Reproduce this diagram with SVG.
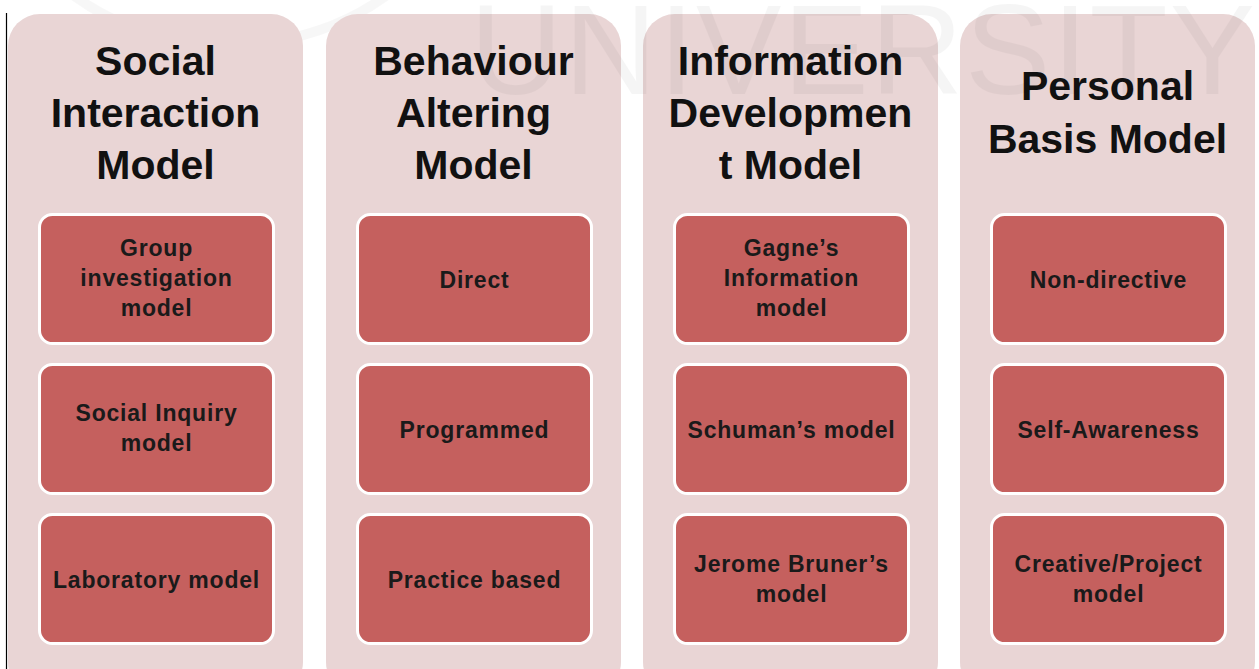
<svg xmlns="http://www.w3.org/2000/svg" width="1259" height="669" viewBox="0 0 1259 669">
  <style>
    .panel { fill: #e9d5d5; }
    .box { fill: #c5605e; stroke: #ffffff; stroke-width: 3; }
    .title { font-family: "Liberation Sans", Arial, sans-serif; font-weight: bold; font-size: 41px; fill: #111111; text-anchor: middle; }
    .label { font-family: "Liberation Sans", Arial, sans-serif; font-weight: bold; font-size: 23px; letter-spacing: 0.8px; fill: #1a1a1a; text-anchor: middle; }
    .wm { font-family: "Liberation Sans", Arial, sans-serif; font-size: 128px; fill: #000000; opacity: 0.035; }
  </style>
  <rect width="1259" height="669" fill="#ffffff"/>
  <ellipse cx="230" cy="-160" rx="240" ry="205" fill="none" stroke="#000" stroke-opacity="0.03" stroke-width="10"/>
  <line x1="6.5" y1="13" x2="6.5" y2="669" stroke="#000" stroke-width="1.2"/>

  <g id="panel-social">
    <rect class="panel" x="8" y="14" width="295" height="680" rx="32"/>
    <text class="title" x="155.5"><tspan x="155.5" y="75">Social</tspan><tspan x="155.5" y="127">Interaction</tspan><tspan x="155.5" y="179">Model</tspan></text>
    <g id="node-group-investigation">
      <rect class="box" x="39.5" y="214.5" width="234" height="129" rx="13"/>
      <text class="label"><tspan x="156.5" y="256">Group</tspan><tspan x="156.5" y="286">investigation</tspan><tspan x="156.5" y="316">model</tspan></text>
    </g>
    <g id="node-social-inquiry">
      <rect class="box" x="39.5" y="364.5" width="234" height="129" rx="13"/>
      <text class="label"><tspan x="156.5" y="421">Social Inquiry</tspan><tspan x="156.5" y="451">model</tspan></text>
    </g>
    <g id="node-laboratory">
      <rect class="box" x="39.5" y="514.5" width="234" height="129" rx="13"/>
      <text class="label" x="156.5" y="588">Laboratory model</text>
    </g>
  </g>

  <g id="panel-behaviour">
    <rect class="panel" x="326" y="14" width="295" height="680" rx="32"/>
    <text class="title"><tspan x="473.5" y="75">Behaviour</tspan><tspan x="473.5" y="127">Altering</tspan><tspan x="473.5" y="179">Model</tspan></text>
    <g id="node-direct">
      <rect class="box" x="357.5" y="214.5" width="234" height="129" rx="13"/>
      <text class="label" x="474.5" y="288">Direct</text>
    </g>
    <g id="node-programmed">
      <rect class="box" x="357.5" y="364.5" width="234" height="129" rx="13"/>
      <text class="label" x="474.5" y="438">Programmed</text>
    </g>
    <g id="node-practice">
      <rect class="box" x="357.5" y="514.5" width="234" height="129" rx="13"/>
      <text class="label" x="474.5" y="588">Practice based</text>
    </g>
  </g>

  <g id="panel-information">
    <rect class="panel" x="643" y="14" width="295" height="680" rx="32"/>
    <text class="title"><tspan x="790.5" y="75">Information</tspan><tspan x="790.5" y="127">Developmen</tspan><tspan x="790.5" y="179">t Model</tspan></text>
    <g id="node-gagne">
      <rect class="box" x="674.5" y="214.5" width="234" height="129" rx="13"/>
      <text class="label"><tspan x="791.5" y="256">Gagne’s</tspan><tspan x="791.5" y="286">Information</tspan><tspan x="791.5" y="316">model</tspan></text>
    </g>
    <g id="node-schuman">
      <rect class="box" x="674.5" y="364.5" width="234" height="129" rx="13"/>
      <text class="label" x="791.5" y="438">Schuman’s model</text>
    </g>
    <g id="node-bruner">
      <rect class="box" x="674.5" y="514.5" width="234" height="129" rx="13"/>
      <text class="label"><tspan x="791.5" y="572">Jerome Bruner’s</tspan><tspan x="791.5" y="602">model</tspan></text>
    </g>
  </g>

  <g id="panel-personal">
    <rect class="panel" x="960" y="14" width="295" height="680" rx="32"/>
    <text class="title"><tspan x="1107.5" y="100">Personal</tspan><tspan x="1107.5" y="153">Basis Model</tspan></text>
    <g id="node-nondirective">
      <rect class="box" x="991.5" y="214.5" width="234" height="129" rx="13"/>
      <text class="label" x="1108.5" y="288">Non-directive</text>
    </g>
    <g id="node-self-awareness">
      <rect class="box" x="991.5" y="364.5" width="234" height="129" rx="13"/>
      <text class="label" x="1108.5" y="438">Self-Awareness</text>
    </g>
    <g id="node-creative">
      <rect class="box" x="991.5" y="514.5" width="234" height="129" rx="13"/>
      <text class="label"><tspan x="1108.5" y="572">Creative/Project</tspan><tspan x="1108.5" y="602">model</tspan></text>
    </g>
  </g>

  <g id="connectors"></g>

  <text class="wm" x="470" y="94" textLength="785" lengthAdjust="spacing">UNIVERSITY</text>
</svg>
